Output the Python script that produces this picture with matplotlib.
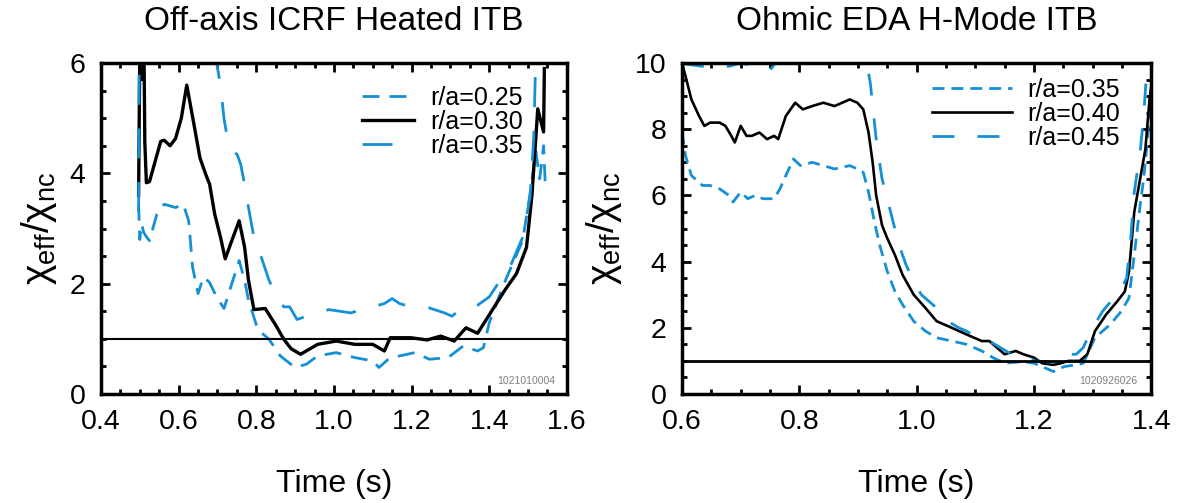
import matplotlib
matplotlib.use("Agg")
import matplotlib.pyplot as plt
from matplotlib.ticker import MultipleLocator, FormatStrFormatter

plt.rcParams['font.family'] = ['Liberation Sans', 'DejaVu Sans']
plt.rcParams['mathtext.fontset'] = 'custom'
plt.rcParams['mathtext.rm'] = 'Liberation Sans'
plt.rcParams['mathtext.it'] = 'Liberation Sans'

BLUE = '#1490d6'

# ---------------- Left panel: Off-axis ICRF Heated ITB ----------------
left_t_025 = [0.497, 0.500, 0.505, 0.510, 0.517, 0.525, 0.544, 0.563, 0.592, 0.612, 0.626, 0.636,
              0.650, 0.664, 0.679, 0.698, 0.717, 0.737, 0.756, 0.770, 0.780, 0.804, 0.833, 0.862,
              0.900, 0.929, 0.958, 1.006, 1.054, 1.100, 1.116, 1.140, 1.169, 1.208, 1.246, 1.294,
              1.333, 1.370, 1.385, 1.400, 1.438, 1.486, 1.505, 1.520, 1.530, 1.540, 1.545]
left_y_025 = [3.45, 2.80, 3.08, 2.93, 2.85, 2.78, 3.26, 3.44, 3.38, 3.44, 3.14, 2.30,
              1.82, 2.12, 2.03, 1.76, 1.55, 2.00, 2.42, 2.06, 1.70, 1.17, 0.99, 0.69,
              0.48, 0.54, 0.69, 0.75, 0.66, 0.60, 0.48, 0.63, 0.69, 0.75, 0.63, 0.66,
              0.87, 0.78, 0.84, 1.29, 2.00, 2.78, 3.62, 4.40, 3.90, 4.50, 3.70]

left_t_030 = [0.497, 0.500, 0.504, 0.508, 0.511, 0.513, 0.517, 0.525, 0.554, 0.563, 0.578, 0.592,
              0.607, 0.621, 0.640, 0.655, 0.670, 0.680, 0.693, 0.708, 0.720, 0.737, 0.756, 0.770,
              0.780, 0.794, 0.823, 0.850, 0.871, 0.890, 0.914, 0.958, 1.006, 1.054, 1.100, 1.130,
              1.145, 1.198, 1.240, 1.275, 1.310, 1.340, 1.370, 1.440, 1.470, 1.496, 1.510, 1.525,
              1.540, 1.542]
left_y_030 = [3.60, 6.20, 5.70, 5.95, 6.10, 4.57, 3.83, 3.85, 4.58, 4.60, 4.50, 4.63,
              5.00, 5.60, 4.87, 4.28, 3.98, 3.80, 3.26, 2.84, 2.45, 2.78, 3.14, 2.66,
              2.06, 1.53, 1.55, 1.25, 0.99, 0.82, 0.72, 0.90, 0.96, 0.90, 0.90, 0.78,
              1.02, 1.02, 0.98, 1.05, 0.96, 1.20, 1.10, 1.88, 2.18, 2.66, 3.60, 5.17,
              4.75, 5.90]

left_t_035 = [0.497, 0.499, 0.600, 0.698, 0.708, 0.717, 0.727, 0.737, 0.751, 0.760, 0.770, 0.780,
              0.794, 0.813, 0.833, 0.852, 0.871, 0.886, 0.905, 0.929, 0.958, 0.987, 1.044, 1.083,
              1.100, 1.130, 1.150, 1.169, 1.198, 1.246, 1.285, 1.304, 1.333, 1.370, 1.400, 1.428,
              1.457, 1.486, 1.505, 1.515, 1.520]
left_y_035 = [3.30, 7.00, 8.00, 6.00, 5.59, 4.99, 4.58, 4.43, 4.34, 4.16, 3.80, 3.38,
              2.84, 2.48, 2.06, 1.76, 1.58, 1.58, 1.35, 1.41, 1.47, 1.53, 1.47, 1.56,
              1.58, 1.64, 1.73, 1.64, 1.58, 1.56, 1.47, 1.41, 1.58, 1.61, 1.76, 2.06,
              2.36, 2.84, 3.56, 4.70, 6.20]

left_labels = ['r/a=0.25', 'r/a=0.30', 'r/a=0.35']

# ---------------- Right panel: Ohmic EDA H-Mode ITB ----------------
right_t_035 = [0.600, 0.606, 0.616, 0.635, 0.648, 0.664, 0.680, 0.687, 0.700, 0.712, 0.725, 0.738,
               0.757, 0.767, 0.777, 0.790, 0.802, 0.822, 0.841, 0.860, 0.886, 0.899, 0.909, 0.918,
               0.928, 0.937, 0.950, 0.963, 0.976, 0.995, 1.015, 1.034, 1.060, 1.085, 1.111, 1.130,
               1.150, 1.182, 1.200, 1.220, 1.233, 1.252, 1.272, 1.284, 1.304, 1.330, 1.349, 1.362,
               1.371, 1.381, 1.387, 1.392, 1.397, 1.400]
right_y_035 = [7.9, 7.2, 6.6, 6.3, 6.3, 6.2, 6.0, 5.8, 6.1, 5.9, 6.0, 5.9,
               5.9, 6.2, 6.6, 7.1, 6.9, 7.0, 6.9, 6.8, 6.9, 6.8, 6.7, 6.1,
               5.2, 4.5, 3.7, 3.1, 2.7, 2.2, 1.9, 1.7, 1.6, 1.5, 1.3, 1.1,
               0.93, 0.98, 0.93, 0.78, 0.68, 0.83, 0.88, 0.93, 1.7, 2.1, 2.5, 2.9,
               4.2, 5.7, 6.5, 7.4, 8.5, 9.2]

right_t_040 = [0.600, 0.606, 0.616, 0.629, 0.638, 0.648, 0.664, 0.674, 0.684, 0.690, 0.700, 0.710,
               0.719, 0.732, 0.745, 0.757, 0.764, 0.777, 0.793, 0.806, 0.822, 0.841, 0.860, 0.886,
               0.899, 0.909, 0.918, 0.925, 0.931, 0.941, 0.950, 0.963, 0.976, 0.995, 1.015, 1.034,
               1.060, 1.085, 1.098, 1.111, 1.124, 1.150, 1.169, 1.182, 1.200, 1.214, 1.233, 1.246,
               1.259, 1.278, 1.291, 1.304, 1.323, 1.342, 1.355, 1.362, 1.371, 1.381, 1.390, 1.397,
               1.400]
right_y_040 = [10.0, 9.6, 8.9, 8.4, 8.1, 8.2, 8.2, 8.1, 7.8, 7.6, 8.1, 7.8,
               7.8, 7.9, 7.7, 7.8, 7.7, 8.4, 8.8, 8.6, 8.7, 8.8, 8.7, 8.9,
               8.8, 8.6, 7.9, 7.0, 6.0, 5.1, 4.7, 4.2, 3.6, 3.0, 2.6, 2.2,
               2.0, 1.8, 1.7, 1.6, 1.6, 1.2, 1.3, 1.2, 1.1, 0.93, 0.88, 0.93,
               1.0, 1.0, 1.2, 1.9, 2.4, 2.8, 3.1, 3.7, 5.5, 6.5, 7.4, 8.9,
               9.3]

right_t_045 = [0.600, 0.635, 0.680, 0.700, 0.751, 0.800, 0.915, 0.921, 0.931, 0.941, 0.950, 0.957,
               0.970, 0.982, 0.995, 1.008, 1.021, 1.034, 1.053, 1.072, 1.085, 1.105, 1.124, 1.143,
               1.162, 1.182, 1.200, 1.220, 1.239, 1.252, 1.272, 1.284, 1.297, 1.317, 1.336, 1.349,
               1.358, 1.365, 1.371, 1.381, 1.387, 1.392, 1.395]
right_y_045 = [9.98, 9.90, 9.90, 10.0, 9.80, 11.0, 10.0, 9.4, 7.7, 6.5, 5.9, 5.4,
               4.5, 3.9, 3.4, 3.0, 2.8, 2.6, 2.2, 2.0, 1.9, 1.7, 1.6, 1.4,
               1.2, 1.2, 1.0, 0.98, 0.93, 1.2, 1.2, 1.4, 1.9, 2.5, 2.9, 3.2,
               3.5, 4.7, 6.1, 7.3, 8.4, 9.7, 10.1]

right_labels = ['r/a=0.35', 'r/a=0.40', 'r/a=0.45']

fig = plt.figure(figsize=(11.82, 5.03), dpi=100)
axL = fig.add_axes([0.0854, 0.2167, 0.3942, 0.658])
axR = fig.add_axes([0.577, 0.2167, 0.397, 0.658])


def style(ax, xlim, ylim, xmaj, xmin, ymaj, ymin):
    ax.set_xlim(*xlim)
    ax.set_ylim(*ylim)
    ax.xaxis.set_major_locator(MultipleLocator(xmaj))
    ax.xaxis.set_minor_locator(MultipleLocator(xmin))
    ax.yaxis.set_major_locator(MultipleLocator(ymaj))
    ax.yaxis.set_minor_locator(MultipleLocator(ymin))
    ax.xaxis.set_major_formatter(FormatStrFormatter('%.1f'))
    ax.tick_params(which='both', direction='in', top=True, right=True, width=2.0,
                   labelsize=20.5, colors='black')
    ax.tick_params(which='major', length=6.5, pad=11)
    ax.tick_params(which='minor', length=3.5)
    for s in ax.spines.values():
        s.set_linewidth(2.5)
    ax.set_xlabel('Time (s)', fontsize=23, labelpad=24)
    ax.set_ylabel(r'$\mathregular{χ_{eff}/χ_{nc}}$', fontsize=28, labelpad=8)


# Left
l1, = axL.plot(left_t_025, left_y_025, color=BLUE, lw=2.0, ls=(0, (6.1, 3.6)))
l2, = axL.plot(left_t_030, left_y_030, color='black', lw=2.4)
l3, = axL.plot(left_t_035, left_y_035, color=BLUE, lw=2.0, ls=(0, (10.8, 8.5)))
axL.axhline(1.0, color='black', lw=1.5)
style(axL, (0.4, 1.6), (0, 6), 0.2, 0.05, 2, 0.5)
axL.set_title('Off-axis ICRF Heated ITB', fontsize=24, pad=24)
axL.legend([l1, l2, l3], left_labels, loc='upper left', frameon=False, fontsize=18,
           handlelength=2.1, labelspacing=0.0, handletextpad=0.65,
           borderpad=0, borderaxespad=0, bbox_to_anchor=(0.56, 0.93))
axL.text(0.975, 0.024, '1021010004', transform=axL.transAxes, ha='right', va='bottom',
         fontsize=7.5, color='#808080')

# Right
r1, = axR.plot(right_t_035, right_y_035, color=BLUE, lw=2.0, ls=(0, (4.3, 2.5)))
r2, = axR.plot(right_t_040, right_y_040, color='black', lw=1.9)
r3, = axR.plot(right_t_045, right_y_045, color=BLUE, lw=2.0, ls=(0, (7.9, 8.3)))
axR.axhline(1.0, color='black', lw=2.0)
style(axR, (0.6, 1.4), (0, 10), 0.2, 0.05, 2, 0.5)
axR.set_title('Ohmic EDA H-Mode ITB', fontsize=24, pad=24)
axR.legend([r1, r2, r3], right_labels, loc='upper left', frameon=False, fontsize=18,
           handlelength=3.2, labelspacing=0.0, handletextpad=0.6,
           borderpad=0, borderaxespad=0, bbox_to_anchor=(0.533, 0.955))
axR.text(0.97, 0.024, '1020926026', transform=axR.transAxes, ha='right', va='bottom',
         fontsize=7.5, color='#808080')

fig.savefig('out.png', dpi=100)
